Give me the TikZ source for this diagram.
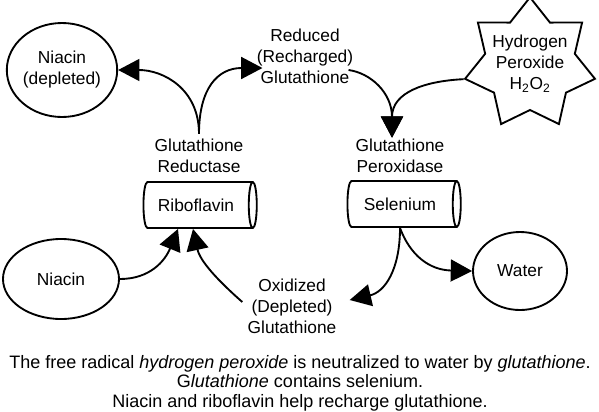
\documentclass[tikz,border=0pt]{standalone}
\usepackage{fontspec}
\setmainfont{Liberation Sans}
\usetikzlibrary{shapes.geometric, arrows.meta, positioning}

\begin{document}
\begin{tikzpicture}[x=0.75pt, y=-0.75pt, line width=1.4pt,
		every node/.style={font=\fontsize{13}{15.75}\selectfont, align=center},
		seta/.style={-{Triangle[length=16pt, width=16.5pt]}},
		elipse/.style={draw, ellipse, inner sep=0pt},
		cilindro/.style={draw, cylinder, shape aspect=0.25, minimum width=34.5pt, minimum height=85pt, inner xsep=0pt, inner ysep=7.25pt}]
				\useasboundingbox (0,0) rectangle (599,411);
				
				%% Nos de cima
				\node [elipse, minimum width=82.5pt, minimum height=70.5pt] (ndep) at (62,70) {Niacin\\(depleted)};
				\node (rgl) at (305,56) {Reduced\\(Recharged)\\Glutathione};
				\node [draw, star, star points=7, star point height=15.5pt, inner sep=-3.8pt] (hp) at (530,64)
				{Hydrogen\\Peroxide\\H\textsubscript{2}O\textsubscript{2}};
				
				%% Enzimas
				\node (grd) at (199,156) {Glutathione\\Reductase};
				\node (gpx) at (400,156) {Glutathione\\Peroxidase};
				\node [cilindro] (rib) at (196,205) {Riboflavin};
				\node [cilindro] (sel) at (400,204) {Selenium};
				
				%% Nos de baixo
				\node [elipse, minimum width=87pt, minimum height=60pt] (nia) at (61,279) {Niacin};
				\node [elipse, minimum width=70.5pt, minimum height=58.5pt] (wat) at (520,271) {Water};
				\node (ogl) at (292,306) {Oxidized\\(Depleted)\\Glutathione};
				
				%% Legenda
				\node [font=\fontsize{13.5}{14.6}\selectfont] (legenda) at (300,383) {The free radical \textit{hydrogen peroxide} is neutralized to water by \textit{glutathione}.\\
				G\textit{lutathione} contains selenium.\\Niacin and riboflavin help recharge glutathione.};
				
				%% Setas da redutase
				\draw [seta] (grd.north) .. controls +(0,-45) and +(45,0) .. (ndep.east);
				\draw [seta] (grd.north) .. controls +(0,-45) and +(-45,0) .. ([shift={(8.25pt,-9pt)}]rgl.west);
				
				%% Setas da peroxidase
				\draw [seta] ([shift={(-7.5pt,-10.5pt)}]rgl.east) .. controls +(22,3) and +(0,-45) .. ([shift={(-6pt,-3pt)}]gpx.north);
				\draw [seta] (hp.outer point 3) .. controls +(-40,2) and +(0,-45) .. ([shift={(-6pt,-3pt)}]gpx.north);
				
				%% Setas para a riboflavina
				\draw [seta] (nia.east) .. controls +(30,0) and +(-13,32) .. ([xshift=-13.5pt]rib.south);
				\draw [seta] ([yshift=3pt]ogl.west) .. controls +(-25,-22) and +(7,32) .. ([xshift=-2.25pt]rib.south);
				
				%% Setas do selenio
				\draw [seta] (sel.south) .. controls +(0,42) and +(35,-8) .. ([shift={(6pt,4.5pt)}]ogl.east);
				\draw [seta] (sel.south) .. controls +(10,27) and +(-43,-1) .. (wat.west);
			\end{tikzpicture}
\end{document}
